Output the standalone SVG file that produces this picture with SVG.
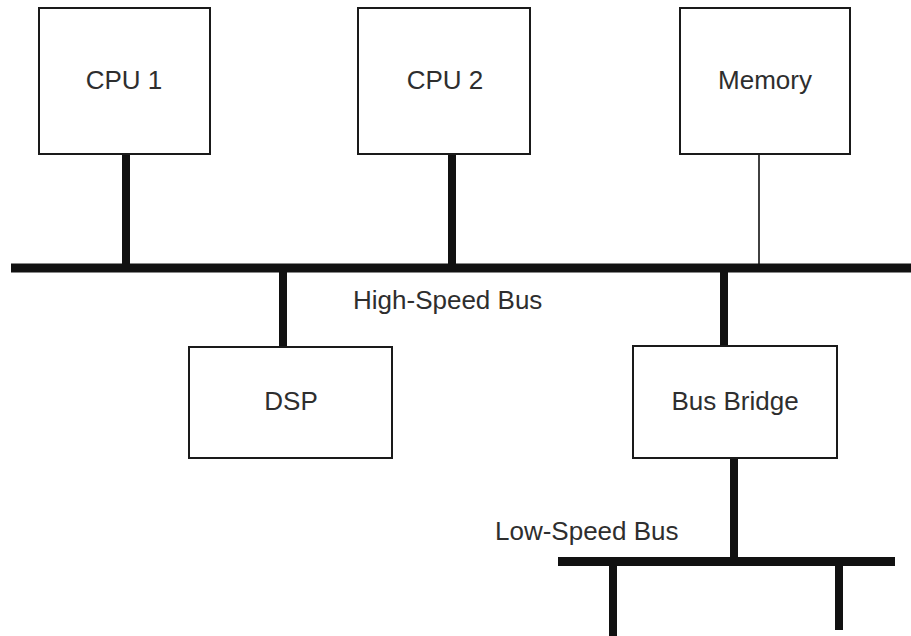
<svg xmlns="http://www.w3.org/2000/svg" width="911" height="636" viewBox="0 0 911 636">
<style>
.box{fill:#fff;stroke:#1a1a1a;stroke-width:2}
.lbl{font-family:"Liberation Sans",Arial,sans-serif;font-size:26px;fill:#2e2e2e}
.c{text-anchor:middle}
.bus{stroke:#111;stroke-width:9;fill:none}
.stub{stroke:#111;stroke-width:8;fill:none}
.thin{stroke:#111;stroke-width:1.6;fill:none}
</style>
<rect width="911" height="636" fill="#fff"/>
<g id="connectors">
<line class="bus" x1="11" y1="268" x2="911" y2="268"/>
<line class="stub" x1="126" y1="154" x2="126" y2="268"/>
<line class="stub" x1="452" y1="154" x2="452" y2="268"/>
<line class="thin" x1="759" y1="154" x2="759" y2="268"/>
<line class="stub" x1="283" y1="268" x2="283" y2="347"/>
<line class="stub" x1="724" y1="268" x2="724" y2="346"/>
<line class="stub" x1="734" y1="458" x2="734" y2="561"/>
<line class="bus" x1="558" y1="561.5" x2="895" y2="561.5"/>
<line class="stub" x1="613" y1="561" x2="613" y2="636"/>
<line class="stub" x1="839" y1="561" x2="839" y2="630"/>
</g>
<g id="cpu1"><rect class="box" x="39" y="8" width="171" height="146"/><text class="lbl c" x="124" y="89">CPU 1</text></g>
<g id="cpu2"><rect class="box" x="358" y="8" width="172" height="146"/><text class="lbl c" x="445" y="89">CPU 2</text></g>
<g id="memory"><rect class="box" x="680" y="8" width="170" height="146"/><text class="lbl c" x="765" y="89">Memory</text></g>
<g id="dsp"><rect class="box" x="189" y="347" width="203" height="111"/><text class="lbl c" x="291" y="410">DSP</text></g>
<g id="busbridge"><rect class="box" x="633" y="346" width="204" height="112"/><text class="lbl c" x="735" y="410">Bus Bridge</text></g>
<g id="labels">
<text class="lbl" x="353" y="309">High-Speed Bus</text>
<text class="lbl" x="495" y="540">Low-Speed Bus</text>
</g>
</svg>
